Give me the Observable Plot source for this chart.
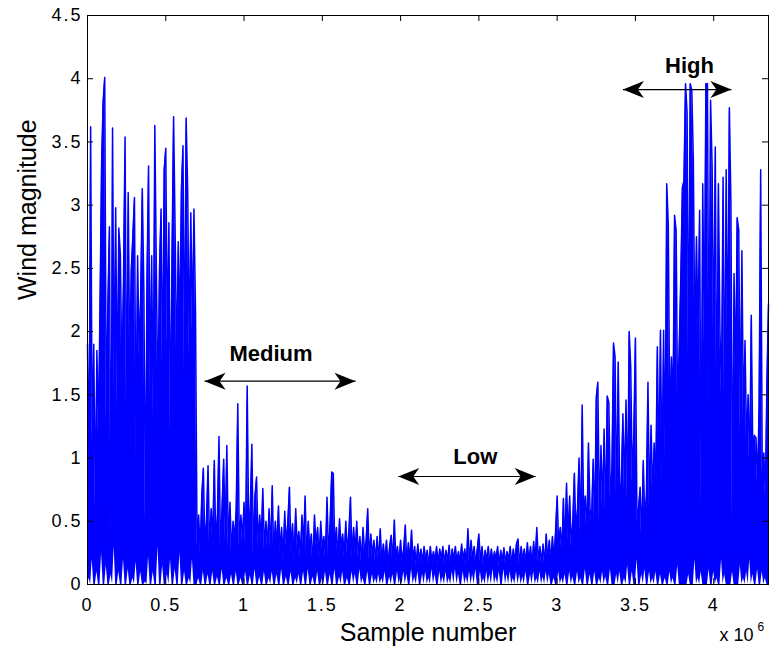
<!DOCTYPE html>
<html><head><meta charset="utf-8">
<script src="https://cdn.jsdelivr.net/npm/d3@7"></script>
<script src="https://cdn.jsdelivr.net/npm/@observablehq/plot@0.6"></script>
<style>
body{margin:0;background:#fff;}
#chart svg{display:block;}
g[aria-label="x-axis tick label"] text, g[aria-label="y-axis tick label"] text{letter-spacing:2px;}
g[aria-label="xlabel"] text{letter-spacing:0.7px;}
g[aria-label="ylabel"] text{letter-spacing:0.4px;}
g[aria-label="exponent"] text{letter-spacing:1px;}
</style></head><body><div id="chart"></div><script>
// sample spacing of the digitised signal (samples between points)
const sampleStep = 10000;

// Wind magnitude: upper values (alternating local maxima / minima)
const windHigh1 = [
 1.9,0.9,3.62,1.1,1.9,0.6,1.85,1.2,2.2,3.32,
 3.82,4.01,1.3,2.2,2.83,0.3,3.61,1.5,2.98,1.4,
 2.82,2.61,1.6,2.4,3.54,1.2,3.10,1.7,2.5,2.76,
 3.06,1.0,2.6,1.8,2.3,3.13,2.33,0.5,2.4,3.31,
 1.5,2.6,1.3,3.63,2.46,1.4,2.5,2.97,1.6,3.28,
 3.45,1.9,2.86,1.2,2.6,3.70,2.77,1.7,2.71,2.0,
 3.13,3.47,1.6,3.69,3.12,1.8,2.94,2.0,2.97,2.15];
const windMedium = [
 0.3,0.55,0.25,0.7,0.92,0.3,0.5,0.94,0.28,0.6,
 0.35,0.98,0.3,0.55,1.17,0.25,0.62,0.99,0.35,1.10,
 0.3,0.65,0.25,0.5,0.35,0.6,1.43,0.3,0.55,0.35,
 0.65,0.3,1.57,0.4,0.6,1.11,0.25,0.7,0.85,0.3,
 0.55,0.35,0.76,0.28,0.5,0.3,0.6,0.25,0.78,0.2,
 0.5,0.3,0.62,0.25,0.45,0.2,0.58,0.3,0.5,0.77,
 0.25,0.48,0.2,0.6,0.3,0.42,0.22,0.55,0.3,0.70,
 0.2,0.5,0.28,0.4,0.15,0.55,0.3,0.45,0.2,0.5,
 0.28,0.38,0.22,0.69,0.2,0.5,0.89,0.88,0.25,0.45,
 0.2,0.52,0.28,0.4,0.22,0.5,0.25,0.42,0.69,0.2,
 0.45,0.25,0.5,0.22,0.38,0.18,0.45,0.25,0.35,0.60,
 0.2,0.4,0.22,0.35,0.18];
const windLow = [
 0.38,0.18,0.44,0.17,0.32,
 0.19,0.35,0.15,0.3,0.39,0.18,0.51,0.19,0.3,0.17,
 0.35,0.18,0.28,0.47,0.16,0.33,0.19,0.43,0.18,0.3,
 0.15,0.32,0.19,0.28,0.17,0.3,0.2,0.27,0.15,0.3,
 0.18,0.26,0.19,0.3,0.16,0.28,0.2,0.3,0.17,0.27,
 0.18,0.31,0.15,0.28,0.2,0.3,0.18,0.26,0.17,0.32,
 0.19,0.28,0.15,0.44,0.18,0.35,0.2,0.3,0.16,0.28,
 0.40,0.18,0.3,0.15,0.27,0.19,0.3,0.17,0.28,0.18,
 0.26,0.2,0.3,0.15,0.27,0.18,0.29,0.17,0.26,0.19,
 0.3,0.16,0.28,0.18,0.32,0.36,0.15,0.3,0.19,0.28,
 0.17,0.33,0.18,0.3,0.15,0.34,0.19,0.45,0.18,0.3,
 0.17,0.32,0.15,0.4,0.19,0.35,0.18,0.38,0.2,0.42];
const windRise = [
 0.70,0.3,0.45,0.25,0.68,0.3,0.80,0.35,0.70,0.3,
 0.5,0.88,0.4,0.6,1.0,0.35,1.42,0.5,0.7,0.4,
 1.12,0.6,0.5,0.99,0.45,1.48,1.60,0.5,1.1,0.6,
 1.23,0.5,1.49,1.44,0.7,0.9,1.91,1.80,0.6,1.76,
 0.7,0.8,1.35,0.75,1.46,0.6,2.0,1.72,0.8,1.2,
 1.95,0.5,0.6,0.77,0.35,0.98,0.5,0.7,1.60,0.6,
 1.26,0.7,1.12,0.8,1.88,0.9,2.01,0.8,2.01,1.0];
const windHigh2 = [
 3.17,2.84,1.2,1.8,1.4,2.92,2.80,1.3,1.9,2.43,
 3.14,3.19,3.96,3.73,1.6,3.96,3.91,3.35,1.8,2.75,
 2.0,2.96,0.6,3.17,1.9,3.96,3.96,1.4,3.83,3.30,
 1.8,3.46,1.2,3.17,2.0,1.5,3.22,1.3,3.28,1.7,
 3.77,3.01,0.5,2.46,1.6,2.90,2.80,1.2,2.64,1.3,
 1.93,1.1,1.5,0.9,2.13,1.0,1.18,1.16,0.8,1.4,
 3.28,0.9,1.04,0.7,1.6,2.22];

// lowest value reached within each sample block (white specks along the bottom)
const minHigh1 = [
 0,0.05,0,0.2,0,0,0.1,0,0,0.25,
 0,0,0.15,0,0,0.08,0,0.3,0,0,
 0.1,0,0,0.2,0,0,0.12,0,0,0.05,
 0,0.18,0,0,0.1,0,0,0.02,0,0.22,
 0,0,0.1,0,0,0.3,0,0,0.15,0,
 0,0.08,0,0.2,0,0,0.12,0,0,0.25,
 0,0,0.1,0,0,0.05,0,0.2,0,0];
const minMedium = [
 0,0.05,0,0,0.1,0,0,0.08,0,0,
 0.1,0,0,0.06,0,0,0.12,0,0,0.05,
 0,0,0.08,0,0,0.1,0,0,0.05,0,
 0,0.1,0,0,0.07,0,0,0.12,0,0,
 0.06,0,0,0.1,0,0,0.05,0,0.1,0,
 0,0.08,0,0,0.12,0,0,0.06,0,0,
 0.1,0,0,0.05,0,0.08,0,0,0.1,0,
 0,0.12,0,0,0.06,0,0,0.1,0,0,
 0.05,0,0.1,0,0,0.08,0,0,0.12,0,
 0,0.06,0,0.1,0,0,0.05,0,0,0.1,
 0,0.08,0,0,0.12,0,0.05,0,0,0.1,
 0,0,0.08,0,0.05];
const minLow = [
 0,0.08,0,0.05,0,
 0.1,0,0,0.06,0,0.08,0,0,0.1,0,
 0.05,0,0.1,0,0.08,0,0,0.12,0,0.06,
 0,0.1,0,0,0.08,0,0.1,0,0.05,0,
 0.12,0,0.08,0,0,0.1,0,0.06,0,0.1,
 0,0.05,0,0.1,0,0.12,0,0.08,0,0,
 0.1,0,0.06,0,0.1,0,0.08,0,0.12,0,
 0,0.1,0,0.05,0,0.1,0,0.08,0,0.12,
 0,0.06,0,0.1,0,0,0.12,0,0.08,0,
 0.1,0,0.05,0,0.1,0,0.08,0,0.06,0,
 0.1,0,0,0.08,0,0.1,0,0.05,0,0.1,
 0,0.06,0,0.1,0,0.08,0,0,0.05,0];
const minRise = [
 0,0.1,0,0.05,0,0.08,0,0,0.1,0,
 0.06,0,0,0.1,0,0.05,0,0,0.12,0,
 0,0.08,0,0,0.1,0,0,0.05,0,0.1,
 0,0.06,0,0,0.12,0,0,0,0.08,0,
 0.1,0,0,0.05,0,0.15,0,0,0.1,0,
 0,0.2,0,0,0.08,0,0.12,0,0,0.1,
 0,0.05,0,0.1,0,0,0.08,0,0,0.05];
const minHigh2 = [
 0,0,0.1,0,0.05,0,0,0.15,0,0,
 0,0,0,0,0.08,0,0,0,0.2,0,
 0.05,0,0.1,0,0,0,0,0.12,0,0,
 0.1,0,0.05,0,0,0.2,0,0.08,0,0,
 0,0,0.1,0,0,0,0,0.15,0,0.05,
 0,0.1,0,0.2,0,0.08,0,0,0.12,0,
 0,0.1,0,0.05,0,0];

const xTickValues = [0, 500000, 1000000, 1500000, 2000000, 2500000, 3000000, 3500000, 4000000];
const xTickLabels = ["0","0.5","1","1.5","2","2.5","3","3.5","4"];
const yTickValues = [0, 0.5, 1, 1.5, 2, 2.5, 3, 3.5, 4, 4.5];
const yTickLabels = ["0","0.5","1","1.5","2","2.5","3","3.5","4","4.5"];

const annoLabels = ["Medium", "Low", "High"];
const annoLabelX = [1172000, 2477000, 3845000];
const annoLabelY = [1.82, 1.01, 4.10];
const arrowX1 = [748000, 1985000, 3420000];
const arrowX2 = [1712000, 2863000, 4113000];
const arrowY = [1.608, 0.854, 3.914];

const wind = [...windHigh1, ...windMedium, ...windLow, ...windRise, ...windHigh2];
const windMin = [...minHigh1, ...minMedium, ...minLow, ...minRise, ...minHigh2];
const series = wind.map((v, i) => ({sample: i * sampleStep, value: v, low: windMin[i]}));

const heads = arrowX1.map((x, i) => ({x, y: arrowY[i], rot: 180}))
  .concat(arrowX2.map((x, i) => ({x, y: arrowY[i], rot: 0})));
const arrows = arrowX1.map((x, i) => ({x1: x, x2: arrowX2[i], y: arrowY[i]}));
const annos = annoLabels.map((t, i) => ({t, x: annoLabelX[i], y: annoLabelY[i]}));

const arrowHead = {draw(ctx) {
  ctx.moveTo(0, 0); ctx.lineTo(-21, -8.5); ctx.lineTo(-15, 0); ctx.lineTo(-21, 8.5); ctx.closePath();
}};

const font = "'Liberation Sans', Arial, Helvetica, sans-serif";

const chart = Plot.plot({
  width: 770, height: 653,
  marginLeft: 87, marginRight: 2, marginTop: 15, marginBottom: 69,
  style: {fontFamily: font, fontSize: "18px", background: "white", color: "black"},
  x: {domain: [0, 4350000]},
  y: {domain: [0, 4.5]},
  marks: [
    Plot.areaY(series, {x: "sample", y1: "low", y2: "value", fill: "#0000ff"}),
    Plot.line(series, {x: "sample", y: "value", stroke: "#0000ff", strokeWidth: 1.5, strokeLinejoin: "round"}),
    Plot.frame({stroke: "black", strokeWidth: 1}),
    Plot.tickX(xTickValues, {x: d => d, insetTop: 563, stroke: "black"}),
    Plot.tickX(xTickValues, {x: d => d, insetBottom: 563, stroke: "black"}),
    Plot.tickY(yTickValues, {y: d => d, insetRight: 675, stroke: "black"}),
    Plot.tickY(yTickValues, {y: d => d, insetLeft: 675, stroke: "black"}),
    Plot.axisX(xTickValues, {tickSize: 0, tickPadding: 14, label: null, fontSize: 18,
      tickFormat: d => xTickLabels[xTickValues.indexOf(d)]}),
    Plot.axisY(yTickValues, {tickSize: 0, tickPadding: 5, label: null, fontSize: 18,
      tickFormat: d => yTickLabels[yTickValues.indexOf(d)]}),
    Plot.text(["Sample number"], {frameAnchor: "bottom", dy: 56, lineAnchor: "bottom", fontSize: 25, fill: "black", ariaLabel: "xlabel"}),
    Plot.text(["Wind magnitude"], {frameAnchor: "left", dx: -52, rotate: -90, lineAnchor: "bottom", fontSize: 25, fill: "black", ariaLabel: "ylabel"}),
    Plot.text(["x 10"], {frameAnchor: "bottom-right", dx: -49, dy: 56, textAnchor: "start", lineAnchor: "bottom", fontSize: 18, fill: "black", ariaLabel: "exponent"}),
    Plot.text(["6"], {frameAnchor: "bottom-right", dx: -11, dy: 46, textAnchor: "start", lineAnchor: "bottom", fontSize: 12, fill: "black"}),
    Plot.link(arrows, {x1: "x1", x2: "x2", y1: "y", y2: "y", stroke: "black", strokeWidth: 1.2}),
    Plot.dot(heads, {x: "x", y: "y", rotate: "rot", symbol: arrowHead, fill: "black", stroke: "none"}),
    Plot.text(annos, {x: "x", y: "y", text: "t", fontWeight: "bold", fontSize: 22, fill: "black"})
  ]
});
document.getElementById("chart").appendChild(chart);
</script></body></html>
